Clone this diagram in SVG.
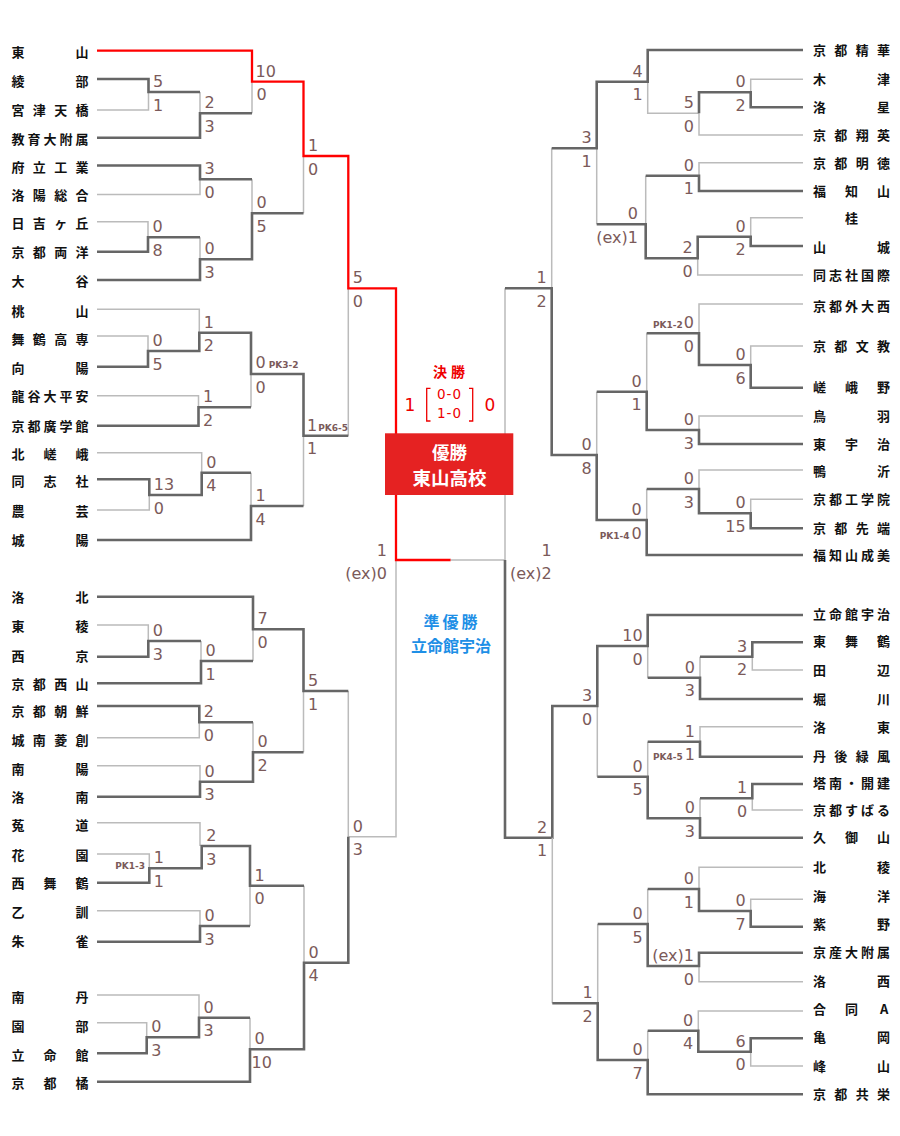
<svg xmlns="http://www.w3.org/2000/svg" width="900" height="1136" viewBox="0 0 900 1136">
<style>
.d{fill:none;stroke:#666;stroke-width:2.6}
.l{fill:none;stroke:#bbb;stroke-width:1.5}
.r{fill:none;stroke:#f00;stroke-width:2.3}
.t{font-family:"Noto Sans CJK JP","Noto Sans",sans-serif;font-weight:700;font-size:13px;fill:#111}
.s{font-family:"DejaVu Sans","Noto Sans",sans-serif;font-size:16px;fill:#7b5a5a}
.e{text-anchor:end}
.pk{font-size:9px;font-weight:700}
</style>
<rect width="900" height="1136" fill="#fff"/>
<g id="connectors">
<path class="l" d="M97,110H148.5V92M200,92V113.3M252,81.7V113.3M97,194.5H200V179.3M97,221.7H148V237.3M200,237.3V259.3M252,179.3V213.3M303.5,156V213.3"/>
<path class="d" d="M97,79H148.5V92H200M97,137.7H200V113.3H252M97,165.5H200V179.3H252M97,251.7H148V237.3H200M97,280H200V259.3H252V213.3H303.5"/>
<path class="l" d="M97,309.3H199.3V332.7M97,336H148V351M97,395.7H198.5V407.3M251,374V407.3M303.5,435.7V506M97,452.7H201.7V472.7M97,510H149.3V495M251,472.7V506M348.3,288.3V435.7"/>
<path class="d" d="M97,366.7H148V351H199.3V332.7H251V374H303.5V435.7H348.3M97,425.7H198.5V407.3H251M97,479.3H149.3V495H201.7V472.7H251M97,540H251V506H303.5"/>
<path class="l" d="M97,625H148.3V641M201,641V661M253,629.3V661M97,737.7H199.3V722.3M253,722.3V752.3M97,765.7H200V781.7M303.5,691V752.3M348.3,691V836.7H396V560"/>
<path class="d" d="M97,596.7H253V629.3H303.5V691H348.3M97,656.7H148.3V641H201M97,683.3H201V661H253M97,706H199.3V722.3H253M97,796.7H200V781.7H253V752.3H303.5"/>
<path class="l" d="M97,822.7H200V846M97,854H149.3V868.3M97,910.7H200V926M250,885.7V926M304,885.7V962.7M97,995H199V1017.7M97,1022.7H146.7V1037.3M250,1017.7V1049.3"/>
<path class="d" d="M97,882.7H149.3V868.3H201.7V846H250V885.7H304M97,941.7H200V926H250M97,1053.3H146.7V1037.3H199V1017.7H250M97,1081.7H250V1049.3H304V962.7H348.3V836.7"/>
<path class="r" d="M97,50.7H252V81.7H303.5V156H348.3V288.3H396V560H450.7"/>
<path class="l" d="M803,79.3H750.7V92.3M699,113.3H647.7V81.7M803,135H699V113.3M596.7,148.3V224.3M803,162.7H699V175.7M645.7,175.7V224.3M803,217.7H750.7V236.7M803,275H697.7V258.3M551.7,148.3V288.3"/>
<path class="d" d="M803,50H647.7V81.7H596.7V148.3H551.7M803,107.3H750.7V92.3H699V113.3M803,191H699V175.7H645.7M803,246H750.7V236.7H697.7V258.3H645.7V224.3H596.7"/>
<path class="l" d="M803,304H699V333.3M803,346H750.7V365M646.7,333.3V391.7M803,416H699V430M596.7,391.7V455M803,470H699V489M803,499.3H750.7V513.3M646.7,489V520M505,288.3V560H450.7"/>
<path class="d" d="M803,387.7H750.7V365H699V333.3H646.7M803,444H699V430H646.7V391.7H596.7M803,528.3H750.7V513.3H699V489H646.7M803,555H646.7V520H596.7V455H551.7V288.3H505"/>
<path class="l" d="M647.7,646V677.7M700,656.7V677.7M803,670H752.3V656.7M597.3,706V776.7M803,726.7H700V741.7M647.7,741.7V776.7M803,810H752.3V798.3M700,798.3V818.3"/>
<path class="d" d="M803,615H647.7V646H597.3V706H552.3V837.7H505V560M803,642.3H752.3V656.7H700M803,699H700V677.7H647.7M803,756.7H700V741.7H647.7M803,784H752.3V798.3H700M803,837.7H700V818.3H647.7V776.7H597.3"/>
<path class="l" d="M552.3,837.7V1003.3M803,867.3H699V889M803,899.3H750.7V911M647.7,889V924M803,981.7H699V966M597.7,924V1003.3M803,1011H698.3V1030.7M803,1066H750.7V1051.7M647.7,1030.7V1060"/>
<path class="d" d="M803,926.7H750.7V911H699V889H647.7M803,952.7H699V966H647.7V924H597.7M803,1038.3H750.7V1051.7H698.3V1030.7H647.7M803,1094.3H647.7V1060H597.7V1003.3H552.3"/>
</g>
<g id="scores" class="s">
<text x="153" y="87">5</text><text x="153" y="110.5">1</text>
<text x="204.5" y="108.3">2</text><text x="204.5" y="131.8">3</text>
<text x="255.5" y="76.7">10</text><text x="256.5" y="100.2">0</text>
<text x="204.5" y="174.3">3</text><text x="204.5" y="197.8">0</text>
<text x="152.5" y="232.3">0</text><text x="152.5" y="255.8">8</text>
<text x="204.5" y="254.3">0</text><text x="204.5" y="277.8">3</text>
<text x="256.5" y="208.3">0</text><text x="256.5" y="231.8">5</text>
<text x="308" y="151">1</text><text x="308" y="174.5">0</text>
<text x="352.8" y="283.3">5</text><text x="352.8" y="306.8">0</text>
<text x="152.5" y="346">0</text><text x="152.5" y="369.5">5</text>
<text x="203.8" y="327.7">1</text><text x="203.8" y="351.2">2</text>
<text x="203" y="402.3">1</text><text x="203" y="425.8">2</text>
<text x="255.5" y="368">0<tspan class="pk" dx="3">PK3-2</tspan></text><text x="255.5" y="392.5">0</text>
<text x="153.8" y="490">13</text><text x="153.8" y="513.5">0</text>
<text x="206.2" y="467.7">0</text><text x="206.2" y="491.2">4</text>
<text x="255.5" y="501">1</text><text x="255.5" y="524.5">4</text>
<text x="307" y="430.7">1<tspan class="pk" dx="1">PK6-5</tspan></text><text x="307" y="454.2">1</text>
<text x="152.8" y="636">0</text><text x="152.8" y="659.5">3</text>
<text x="205.5" y="656">0</text><text x="205.5" y="679.5">1</text>
<text x="257.5" y="624.3">7</text><text x="257.5" y="647.8">0</text>
<text x="203.8" y="717.3">2</text><text x="203.8" y="740.8">0</text>
<text x="204.5" y="776.7">0</text><text x="204.5" y="800.2">3</text>
<text x="257.5" y="747.3">0</text><text x="257.5" y="770.8">2</text>
<text x="308" y="686">5</text><text x="308" y="709.5">1</text>
<text x="153.8" y="863.3">1</text><text x="153.8" y="886.8">1</text>
<text class="pk e" x="145" y="868.5">PK1-3</text>
<text x="206.2" y="841">2</text><text x="206.2" y="864.5">3</text>
<text x="204.5" y="921">0</text><text x="204.5" y="944.5">3</text>
<text x="254.5" y="880.7">1</text><text x="254.5" y="904.2">0</text>
<text x="151.2" y="1032.3">0</text><text x="151.2" y="1055.8">3</text>
<text x="203.5" y="1012.7">0</text><text x="203.5" y="1036.2">3</text>
<text x="254.5" y="1044.3">0</text><text x="251.5" y="1067.8">10</text>
<text x="308.5" y="957.7">0</text><text x="308.5" y="981.2">4</text>
<text x="352.8" y="831.7">0</text><text x="352.8" y="855.2">3</text>
<text class="e" x="387" y="555.8">1</text><text class="e" x="387" y="579">(ex)0</text>
<g class="e">
<text x="745.7" y="87.3">0</text><text x="745.7" y="110.8">2</text>
<text x="694" y="108.3">5</text><text x="694" y="131.8">0</text>
<text x="642.7" y="76.7">4</text><text x="642.7" y="100.2">1</text>
<text x="694" y="170.7">0</text><text x="694" y="194.2">1</text>
<text x="745.7" y="231.7">0</text><text x="745.7" y="255.2">2</text>
<text x="692.7" y="253.3">2</text><text x="692.7" y="276.8">0</text>
<text x="638" y="219.3">0</text><text x="638" y="242.8">(ex)1</text>
<text x="591.7" y="143.3">3</text><text x="591.7" y="166.8">1</text>
<text x="546.7" y="283.3">1</text><text x="546.7" y="306.8">2</text>
<text x="745.7" y="360">0</text><text x="745.7" y="383.5">6</text>
<text x="694" y="328.3"><tspan class="pk">PK1-2</tspan><tspan dx="1">0</tspan></text><text x="694" y="351.8">0</text>
<text x="694" y="425">0</text><text x="694" y="448.5">3</text>
<text x="641.7" y="386.7">0</text><text x="641.7" y="410.2">1</text>
<text x="745.7" y="508.3">0</text><text x="745.7" y="531.8">15</text>
<text x="694" y="484">0</text><text x="694" y="507.5">3</text>
<text x="641.7" y="515">0</text><text x="641.7" y="538.5"><tspan class="pk">PK1-4</tspan><tspan dx="2">0</tspan></text>
<text x="591.7" y="450">0</text><text x="591.7" y="473.5">8</text>
<text x="747.3" y="651.7">3</text><text x="747.3" y="675.2">2</text>
<text x="695" y="672.7">0</text><text x="695" y="696.2">3</text>
<text x="642.7" y="641">10</text><text x="642.7" y="664.5">0</text>
<text x="695" y="736.7">1</text><text x="695" y="760.2"><tspan class="pk">PK4-5</tspan><tspan dx="2">1</tspan></text>
<text x="747.3" y="793.3">1</text><text x="747.3" y="816.8">0</text>
<text x="695" y="813.3">0</text><text x="695" y="836.8">3</text>
<text x="642.7" y="771.7">0</text><text x="642.7" y="795.2">5</text>
<text x="592.3" y="701">3</text><text x="592.3" y="724.5">0</text>
<text x="745.7" y="906">0</text><text x="745.7" y="929.5">7</text>
<text x="694" y="884">0</text><text x="694" y="907.5">1</text>
<text x="694" y="961">(ex)1</text><text x="694" y="984.5">0</text>
<text x="642.7" y="919">0</text><text x="642.7" y="942.5">5</text>
<text x="745.7" y="1046.7">6</text><text x="745.7" y="1070.2">0</text>
<text x="693.3" y="1025.7">0</text><text x="693.3" y="1049.2">4</text>
<text x="642.7" y="1055">0</text><text x="642.7" y="1078.5">7</text>
<text x="592.7" y="998.3">1</text><text x="592.7" y="1021.8">2</text>
<text x="547.3" y="832.7">2</text><text x="547.3" y="856.2">1</text>
<text x="551.7" y="555.8">1</text><text x="551.7" y="579">(ex)2</text>
</g>
</g>
<g id="final">
<text x="451" y="377" text-anchor="middle" style="font-family:'Noto Sans CJK JP',sans-serif;font-weight:700;font-size:14px;fill:#e00;letter-spacing:4px">決勝</text>
<g style="font-family:'DejaVu Sans',sans-serif;fill:#e00" text-anchor="middle">
<text x="410" y="411" font-size="17">1</text>
<text x="490" y="411" font-size="17">0</text>
<text x="449.5" y="399" font-size="13.5" letter-spacing="1">0-0</text>
<text x="449.5" y="417.5" font-size="13.5" letter-spacing="1">1-0</text>
</g>
<path d="M430.5,388.3H426.7V421H430.5M469,388.3H472.7V421H469" fill="none" stroke="#e00" stroke-width="1.3"/>
</g>
<g id="champion">
<rect x="385" y="433.3" width="128.3" height="61.7" fill="#e52222"/>
<text x="449.5" y="458.5" text-anchor="middle" style="font-family:'Noto Sans CJK JP',sans-serif;font-weight:700;font-size:17.5px;fill:#fff">優勝</text>
<text x="449.5" y="485" text-anchor="middle" style="font-family:'Noto Sans CJK JP',sans-serif;font-weight:700;font-size:18.5px;fill:#fff">東山高校</text>
</g>
<g id="runnerup">
<text text-anchor="middle" style="font-family:'Noto Sans CJK JP',sans-serif;font-weight:700;font-size:16px;fill:#1e8fe6"><tspan x="452" y="627.5" letter-spacing="3">準優勝</tspan><tspan x="451" y="652">立命館宇治</tspan></text>
</g>
<g class="t">
<g id="L01"><text x="11.5 75.5" y="56.5">東山</text></g>
<g id="L02"><text x="11.5 75.5" y="85.5">綾部</text></g>
<g id="L03"><text x="11.5 32.8 54.2 75.5" y="115">宮津天橋</text></g>
<g id="L04"><text x="11.5 27.5 43.5 59.5 75.5" y="143.5">教育大附属</text></g>
<g id="L05"><text x="11.5 32.8 54.2 75.5" y="171.5">府立工業</text></g>
<g id="L06"><text x="11.5 32.8 54.2 75.5" y="199.5">洛陽総合</text></g>
<g id="L07"><text x="11.5 32.8 54.2 75.5" y="228">日吉ヶ丘</text></g>
<g id="L08"><text x="11.5 32.8 54.2 75.5" y="257">京都両洋</text></g>
<g id="L09"><text x="11.5 75.5" y="285.5">大谷</text></g>
<g id="L10"><text x="11.5 75.5" y="315.5">桃山</text></g>
<g id="L11"><text x="11.5 32.8 54.2 75.5" y="343.5">舞鶴高専</text></g>
<g id="L12"><text x="11.5 75.5" y="372.5">向陽</text></g>
<g id="L13"><text x="11.5 27.5 43.5 59.5 75.5" y="401">龍谷大平安</text></g>
<g id="L14"><text x="11.5 27.5 43.5 59.5 75.5" y="430.5">京都廣学館</text></g>
<g id="L15"><text x="11.5 43.5 75.5" y="458.5">北嵯峨</text></g>
<g id="L16"><text x="11.5 43.5 75.5" y="486">同志社</text></g>
<g id="L17"><text x="11.5 75.5" y="515.5">農芸</text></g>
<g id="L18"><text x="11.5 75.5" y="544.5">城陽</text></g>
<g id="L19"><text x="11.5 75.5" y="602">洛北</text></g>
<g id="L20"><text x="11.5 75.5" y="630.5">東稜</text></g>
<g id="L21"><text x="11.5 75.5" y="660.5">西京</text></g>
<g id="L22"><text x="11.5 32.8 54.2 75.5" y="688.5">京都西山</text></g>
<g id="L23"><text x="11.5 32.8 54.2 75.5" y="715.5">京都朝鮮</text></g>
<g id="L24"><text x="11.5 32.8 54.2 75.5" y="745">城南菱創</text></g>
<g id="L25"><text x="11.5 75.5" y="773.5">南陽</text></g>
<g id="L26"><text x="11.5 75.5" y="802">洛南</text></g>
<g id="L27"><text x="11.5 75.5" y="830">菟道</text></g>
<g id="L28"><text x="11.5 75.5" y="859.5">花園</text></g>
<g id="L29"><text x="11.5 43.5 75.5" y="888">西舞鶴</text></g>
<g id="L30"><text x="11.5 75.5" y="916.5">乙訓</text></g>
<g id="L31"><text x="11.5 75.5" y="945.5">朱雀</text></g>
<g id="L32"><text x="11.5 75.5" y="1001.5">南丹</text></g>
<g id="L33"><text x="11.5 75.5" y="1031">園部</text></g>
<g id="L34"><text x="11.5 43.5 75.5" y="1059.5">立命館</text></g>
<g id="L35"><text x="11.5 43.5 75.5" y="1088">京都橘</text></g>
<g id="R01"><text x="813 834.3 855.7 877" y="54.5">京都精華</text></g>
<g id="R02"><text x="813 877" y="84">木津</text></g>
<g id="R03"><text x="813 877" y="112">洛星</text></g>
<g id="R04"><text x="813 834.3 855.7 877" y="140">京都翔英</text></g>
<g id="R05"><text x="813 834.3 855.7 877" y="167.5">京都明徳</text></g>
<g id="R06"><text x="813 845 877" y="196">福知山</text></g>
<g id="R07"><text x="845" y="222.5">桂</text></g>
<g id="R08"><text x="813 877" y="251.5">山城</text></g>
<g id="R09"><text x="813 829 845 861 877" y="280">同志社国際</text></g>
<g id="R10"><text x="813 829 845 861 877" y="310.5">京都外大西</text></g>
<g id="R11"><text x="813 834.3 855.7 877" y="351">京都文教</text></g>
<g id="R12"><text x="813 845 877" y="392">嵯峨野</text></g>
<g id="R13"><text x="813 877" y="420.5">鳥羽</text></g>
<g id="R14"><text x="813 845 877" y="448.5">東宇治</text></g>
<g id="R15"><text x="813 877" y="475.5">鴨沂</text></g>
<g id="R16"><text x="813 829 845 861 877" y="503.5">京都工学院</text></g>
<g id="R17"><text x="813 834.3 855.7 877" y="533.3">京都先端</text></g>
<g id="R18"><text x="813 829 845 861 877" y="560">福知山成美</text></g>
<g id="R19"><text x="813 829 845 861 877" y="619">立命館宇治</text></g>
<g id="R20"><text x="813 845 877" y="646">東舞鶴</text></g>
<g id="R21"><text x="813 877" y="675">田辺</text></g>
<g id="R22"><text x="813 877" y="703.5">堀川</text></g>
<g id="R23"><text x="813 877" y="731.7">洛東</text></g>
<g id="R24"><text x="813 834.3 855.7 877" y="760.5">丹後緑風</text></g>
<g id="R25"><text x="813 829 845 861 877" y="787.5">塔南・開建</text></g>
<g id="R26"><text x="813 829 845 861 877" y="814.5">京都すばる</text></g>
<g id="R27"><text x="813 845 877" y="842">久御山</text></g>
<g id="R28"><text x="813 877" y="872">北稜</text></g>
<g id="R29"><text x="813 877" y="901">海洋</text></g>
<g id="R30"><text x="813 877" y="929">紫野</text></g>
<g id="R31"><text x="813 829 845 861 877" y="957">京産大附属</text></g>
<g id="R32"><text x="813 877" y="985.5">洛西</text></g>
<g id="R33"><text x="813 845 880" y="1014">合同A</text></g>
<g id="R34"><text x="813 877" y="1042">亀岡</text></g>
<g id="R35"><text x="813 877" y="1070.5">峰山</text></g>
<g id="R36"><text x="813 834.3 855.7 877" y="1098.5">京都共栄</text></g>
</g>
</svg>
